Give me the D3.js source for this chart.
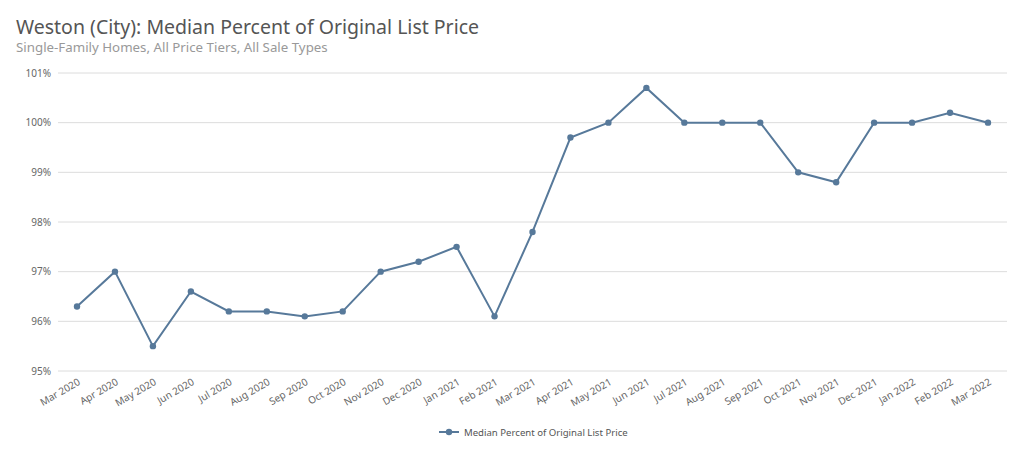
<!DOCTYPE html>
<html><head><meta charset="utf-8">
<script src="https://cdn.jsdelivr.net/npm/d3@7"></script>
<style>
html,body{margin:0;padding:0;background:#fff;}
svg{display:block;font-family:"Noto Sans","Open Sans",sans-serif;}
</style></head>
<body><svg id="c" width="1024" height="469"></svg>
<script>
const months = ["Mar 2020","Apr 2020","May 2020","Jun 2020","Jul 2020","Aug 2020","Sep 2020","Oct 2020","Nov 2020","Dec 2020","Jan 2021","Feb 2021","Mar 2021","Apr 2021","May 2021","Jun 2021","Jul 2021","Aug 2021","Sep 2021","Oct 2021","Nov 2021","Dec 2021","Jan 2022","Feb 2022","Mar 2022"];
const values = [96.3,97.0,95.5,96.6,96.2,96.2,96.1,96.2,97.0,97.2,97.5,96.1,97.8,99.7,100.0,100.7,100.0,100.0,100.0,99.0,98.8,100.0,100.0,100.2,100.0];
const yTicks = [95,96,97,98,99,100,101];
const seriesName = "Median Percent of Original List Price";
const title = "Weston (City): Median Percent of Original List Price";
const subtitle = "Single-Family Homes, All Price Tiers, All Sale Types";
const color = "#57799a";

const svg = d3.select("#c");
const x = d3.scalePoint().domain(months).range([77, 988]);
const y = d3.scaleLinear().domain([95, 101]).range([371, 73]);

svg.append("text").attr("x",16).attr("y",34).attr("font-size",19.5).attr("fill","#555").text(title);
svg.append("text").attr("x",16).attr("y",52).attr("font-size",13.3).attr("fill","#999").text(subtitle);

// grid
const g = svg.append("g");
g.selectAll("line.grid").data(yTicks).enter().append("line")
  .attr("x1",58).attr("x2",1007)
  .attr("y1",d=>y(d)).attr("y2",d=>y(d))
  .attr("stroke","#dcdcdc").attr("stroke-width",1);
g.selectAll("text.yl").data(yTicks).enter().append("text")
  .attr("x",51).attr("y",d=>y(d)+3.5).attr("text-anchor","end")
  .attr("font-size",10).attr("fill","#666").text(d=>d+"%");

// x labels
svg.selectAll("text.xl").data(months).enter().append("text")
  .attr("transform",d=>`translate(${x(d)+4},${384}) rotate(-30)`)
  .attr("text-anchor","end").attr("font-size",10).attr("fill","#666").text(d=>d);

// line
const line = d3.line().x((d,i)=>x(months[i])).y(d=>y(d));
svg.append("path").datum(values).attr("d",line).attr("fill","none")
  .attr("stroke",color).attr("stroke-width",2);
svg.selectAll("circle.pt").data(values).enter().append("circle")
  .attr("cx",(d,i)=>x(months[i])).attr("cy",d=>y(d)).attr("r",3.2).attr("fill",color);

// legend
const lg = svg.append("g").attr("transform","translate(439,432)");
lg.append("line").attr("x1",0).attr("x2",20).attr("y1",0).attr("y2",0).attr("stroke",color).attr("stroke-width",2);
lg.append("circle").attr("cx",10).attr("cy",0).attr("r",3.2).attr("fill",color);
lg.append("text").attr("x",25).attr("y",3.5).attr("font-size",9.6).attr("fill","#555").text(seriesName);
</script></body></html>
